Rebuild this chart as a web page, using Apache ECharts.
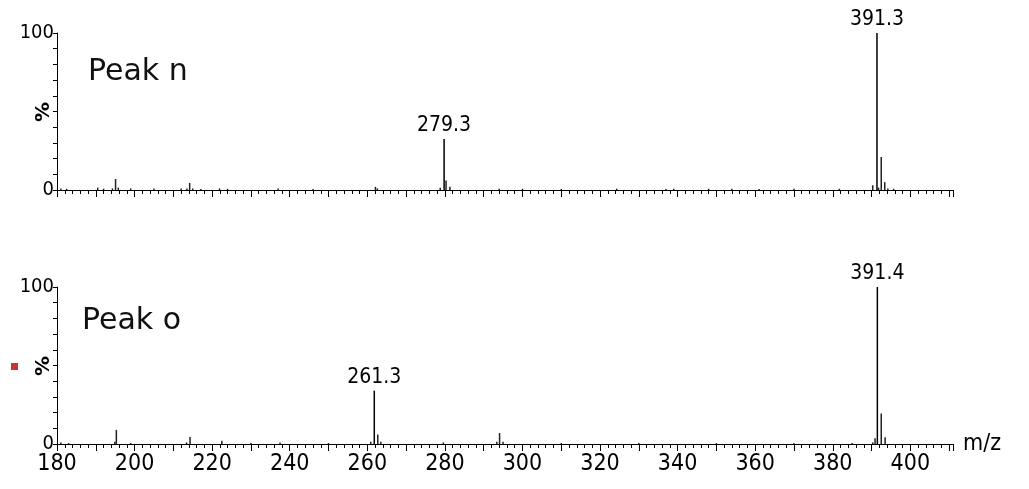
<!DOCTYPE html>
<html>
<head>
<meta charset="utf-8">
<script src="https://cdn.jsdelivr.net/npm/echarts@6/dist/echarts.min.js"></script>
<style>
html,body{margin:0;padding:0;background:#fff;}
#c{width:1029px;height:489px;}
</style>
</head>
<body>
<div id="c"></div>
<script>
// ---- Data (m/z, relative intensity %) ----
const peakN_mz  = [181.0, 182.5, 190.5, 192.0, 194.3, 195.1, 195.8, 199.0, 205.0, 212.0, 213.5, 214.2, 215.0, 217.1, 221.9, 224.0, 237.0, 246.0, 262.1, 262.6, 278.8, 279.8, 280.3, 281.3, 294.0, 300.0, 310.0, 324.3, 337.0, 339.0, 348.0, 354.0, 361.0, 370.0, 381.7, 390.3, 391.4, 391.8, 392.5, 393.4, 394.2, 395.7];
const peakN_int = [1.0, 0.7, 1.5, 0.8, 1.0, 7.0, 1.5, 1.0, 1.0, 1.0, 1.0, 4.5, 1.0, 0.6, 1.0, 0.7, 1.0, 0.7, 2.0, 1.0, 1.5, 32.5, 6.0, 2.0, 0.8, 0.8, 0.7, 0.8, 0.7, 0.8, 0.8, 0.8, 0.7, 0.8, 0.8, 3.0, 100, 1.5, 21.0, 5.0, 1.0, 0.8];
const peakN_labels = [{mz: 279.8, text: '279.3'}, {mz: 391.4, text: '391.3'}];

const peakO_mz  = [181.0, 183.0, 194.9, 195.3, 199.0, 213.4, 214.3, 222.5, 230.0, 237.5, 250.0, 260.9, 261.8, 262.7, 263.5, 279.6, 293.4, 294.1, 295.0, 310.0, 330.0, 350.0, 370.0, 385.0, 390.3, 390.9, 391.5, 392.5, 393.5];
const peakO_int = [1.0, 0.6, 1.5, 9.0, 0.6, 1.0, 4.5, 2.0, 0.6, 1.0, 0.6, 1.5, 34.0, 6.0, 1.5, 1.0, 1.5, 7.0, 1.5, 0.6, 0.6, 0.6, 0.6, 0.6, 1.0, 3.6, 100, 19.5, 4.3];
const peakO_labels = [{mz: 261.8, text: '261.3'}, {mz: 391.5, text: '391.4'}];

const xTickLabels = [180, 200, 220, 240, 260, 280, 300, 320, 340, 360, 380, 400];
const yTickLabels = [0, 100];
const panelTitles = ['Peak n', 'Peak o'];
const xAxisName = 'm/z';
const yAxisName = '%';

// ---- Build ----
const NARROW = "'Liberation Sans Narrow', 'DejaVu Sans Condensed', sans-serif";
function buildData(mz, inten, labels) {
  return mz.map((m, i) => {
    const lab = labels.find(l => l.mz === m);
    const item = {value: [m, inten[i]]};
    if (lab) {
      item.label = {show: true, position: 'top', distance: 3, formatter: lab.text,
        color: '#000', fontFamily: NARROW, fontSize: 21};
      item.itemStyle = {color: '#000'};
    }
    return item;
  });
}

const grids = [
  {left: 57, top: 33, width: 896, height: 157, outerBoundsMode: 'none', containLabel: false},
  {left: 57, top: 287, width: 896, height: 157, outerBoundsMode: 'none', containLabel: false}
];

function xAxis(idx, showLabels) {
  return {
    type: 'value', gridIndex: idx, min: 180, max: 411, interval: 10,
    axisLine: {show: true, onZero: false, lineStyle: {color: '#000', width: 1}},
    axisTick: {show: true, length: 7, lineStyle: {color: '#000'}},
    minorTick: {show: true, splitNumber: 5, length: 4, lineStyle: {color: '#000'}},
    splitLine: {show: false},
    axisLabel: {
      show: showLabels, margin: 9, color: '#000', fontFamily: NARROW, fontSize: 23,
      showMaxLabel: false,
      formatter: v => xTickLabels.includes(v) ? String(v) : ''
    },
    name: showLabels ? xAxisName : '',
    nameLocation: 'end', nameGap: 10,
    nameTextStyle: {color: '#000', fontFamily: NARROW, fontSize: 23, verticalAlign: 'middle', padding: [6, 0, 0, 0]}
  };
}
function yAxis(idx) {
  return {
    type: 'value', gridIndex: idx, min: 0, max: 100, interval: 10,
    axisLine: {show: true, lineStyle: {color: '#000', width: 1}},
    axisTick: {show: true, length: 4, lineStyle: {color: '#000'}},
    splitLine: {show: false},
    axisLabel: {
      margin: 3, color: '#000', fontFamily: NARROW, fontSize: 20,
      formatter: v => yTickLabels.includes(v) ? String(v) : ''
    }
  };
}

const pctStyle = {text: yAxisName, fill: '#000', font: "bold 20px 'DejaVu Sans', sans-serif",
                  textAlign: 'center', textVerticalAlign: 'middle'};

const chart = echarts.init(document.getElementById('c'), null, {renderer: 'canvas'});
chart.setOption({
  animation: false,
  backgroundColor: '#fff',
  grid: grids,
  xAxis: [xAxis(0, false), xAxis(1, true)],
  yAxis: [yAxis(0), yAxis(1)],
  series: [
    {type: 'bar', xAxisIndex: 0, yAxisIndex: 0, barWidth: 1.5, itemStyle: {color: '#222'},
     data: buildData(peakN_mz, peakN_int, peakN_labels)},
    {type: 'bar', xAxisIndex: 1, yAxisIndex: 1, barWidth: 1.5, itemStyle: {color: '#222'},
     data: buildData(peakO_mz, peakO_int, peakO_labels)}
  ],
  graphic: [
    {type: 'text', left: 88, top: 57, style: {text: panelTitles[0], fill: '#111', font: "30px 'DejaVu Sans', sans-serif"}},
    {type: 'text', left: 82, top: 306, style: {text: panelTitles[1], fill: '#111', font: "30px 'DejaVu Sans', sans-serif"}},
    {type: 'text', x: 44, y: 112, rotation: Math.PI / 2, style: pctStyle},
    {type: 'text', x: 44, y: 366, rotation: Math.PI / 2, style: pctStyle},
    {type: 'rect', shape: {x: 11, y: 363, width: 7, height: 7}, style: {fill: '#cc3333'}}
  ]
});
</script>
</body>
</html>
